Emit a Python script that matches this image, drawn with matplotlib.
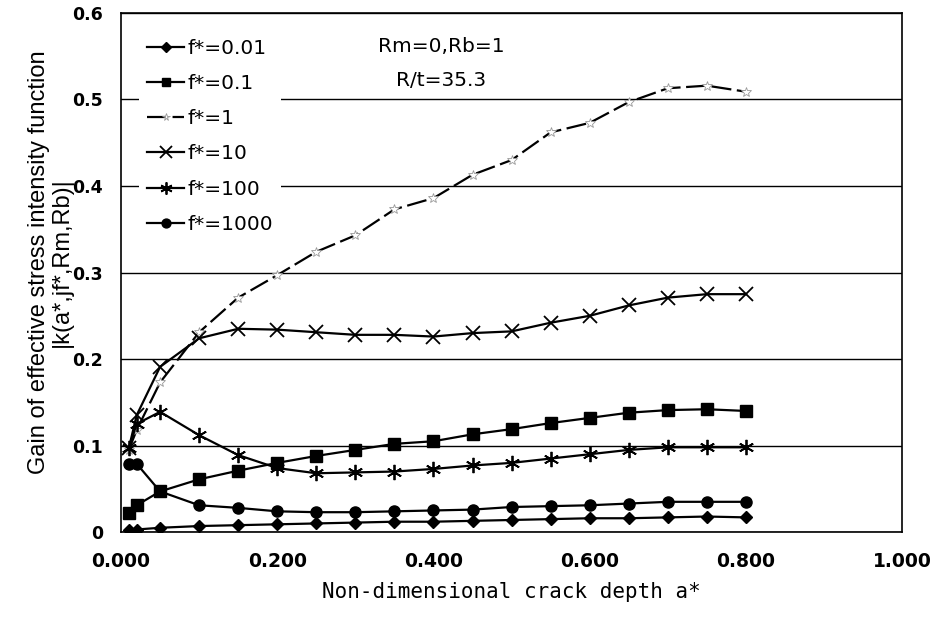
import matplotlib
matplotlib.use('Agg')
import matplotlib.pyplot as plt

# crack depth a*
a_star = [0.01, 0.02, 0.05, 0.10, 0.15, 0.20, 0.25, 0.30, 0.35,
          0.40, 0.45, 0.50, 0.55, 0.60, 0.65, 0.70, 0.75, 0.80]

# gain |k(a*,jf*,Rm,Rb)|
k_f001 = [0.002, 0.003, 0.005, 0.007, 0.008, 0.009, 0.010, 0.011, 0.012,
          0.012, 0.013, 0.014, 0.015, 0.016, 0.016, 0.017, 0.018, 0.017]
k_f01 = [0.022, 0.031, 0.047, 0.061, 0.071, 0.080, 0.088, 0.095, 0.102,
         0.105, 0.113, 0.119, 0.126, 0.132, 0.138, 0.141, 0.142, 0.140]
k_f1 = [0.095, 0.118, 0.173, 0.231, 0.271, 0.297, 0.324, 0.343, 0.373,
        0.386, 0.413, 0.430, 0.462, 0.473, 0.497, 0.513, 0.516, 0.509]
k_f10 = [0.097, 0.135, 0.191, 0.224, 0.235, 0.234, 0.231, 0.228, 0.228,
         0.226, 0.230, 0.232, 0.242, 0.250, 0.262, 0.271, 0.275, 0.275]
k_f100 = [0.097, 0.125, 0.139, 0.112, 0.089, 0.074, 0.068, 0.069, 0.070,
          0.073, 0.077, 0.080, 0.085, 0.090, 0.095, 0.098, 0.098, 0.098]
k_f1000 = [0.079, 0.079, 0.047, 0.031, 0.028, 0.024, 0.023, 0.023, 0.024,
           0.025, 0.026, 0.029, 0.030, 0.031, 0.033, 0.035, 0.035, 0.035]

x_ticks = [0.0, 0.2, 0.4, 0.6, 0.8, 1.0]
y_ticks = [0.0, 0.1, 0.2, 0.3, 0.4, 0.5, 0.6]
x_ticklabels = ['0.000', '0.200', '0.400', '0.600', '0.800', '1.000']
y_ticklabels = ['0', '0.1', '0.2', '0.3', '0.4', '0.5', '0.6']

plt.rcParams['font.family'] = ['DejaVu Sans']

fig = plt.figure(figsize=(9.31, 6.18), dpi=100)
ax = fig.add_axes([0.130, 0.139, 0.839, 0.840])

lw = 1.6
ax.plot(a_star, k_f001, color='black', lw=lw, marker='D', ms=6, label='f*=0.01', zorder=3)
ax.plot(a_star, k_f01, color='black', lw=lw, marker='s', ms=8, label='f*=0.1', zorder=3)
ax.plot(a_star, k_f1, color='black', lw=lw, dashes=(9, 2.5), marker='*', ms=7,
        mfc='white', mec='0.6', mew=0.6, label='f*=1', zorder=3)
ax.plot(a_star, k_f10, color='black', lw=lw, marker='x', ms=10, mew=1.3, label='f*=10', zorder=3)
ax.plot(a_star, k_f100, color='black', lw=lw, marker=(6, 2, 0), ms=11, mew=1.3, label='f*=100', zorder=3)
ax.plot(a_star, k_f1000, color='black', lw=lw, marker='o', ms=8, label='f*=1000', zorder=3)

ax.set_xlim(0, 1.0)
ax.set_ylim(0, 0.6)
ax.set_xticks(x_ticks)
ax.set_xticklabels(x_ticklabels, fontsize=13.5, fontweight='bold')
ax.set_yticks(y_ticks)
ax.set_yticklabels(y_ticklabels, fontsize=12.5, fontweight='bold')
ax.tick_params(length=0)
ax.tick_params(axis='x', pad=14)
ax.tick_params(axis='y', pad=13)
ax.grid(axis='y', color='black', lw=1.0)
ax.xaxis.grid(False)
for s in ax.spines.values():
    s.set_linewidth(1.2)

ax.set_xlabel('Non-dimensional crack depth a*', fontsize=15,
              family='DejaVu Sans Mono', labelpad=8)
ax.set_ylabel('Gain of effective stress intensity function\n|k(a*,jf*,Rm,Rb)|',
              fontsize=17, family='Liberation Sans', linespacing=1.05)
ax.yaxis.set_label_coords(-0.062, 0.52)

ax.text(0.41, 0.561, 'Rm=0,Rb=1', fontsize=14.5, ha='center', va='center')
ax.text(0.41, 0.5225, 'R/t=35.3', fontsize=14.5, ha='center', va='center')

leg = ax.legend(loc='upper left', frameon=True, fontsize=14.5, handlelength=1.85,
                handletextpad=0.15, labelspacing=0.8, borderaxespad=0.9,
                fancybox=False, markerscale=0.8)
leg.get_frame().set_edgecolor('none')
leg.get_frame().set_facecolor('white')
leg.get_frame().set_alpha(1.0)

fig.savefig('out.png', dpi=100)
